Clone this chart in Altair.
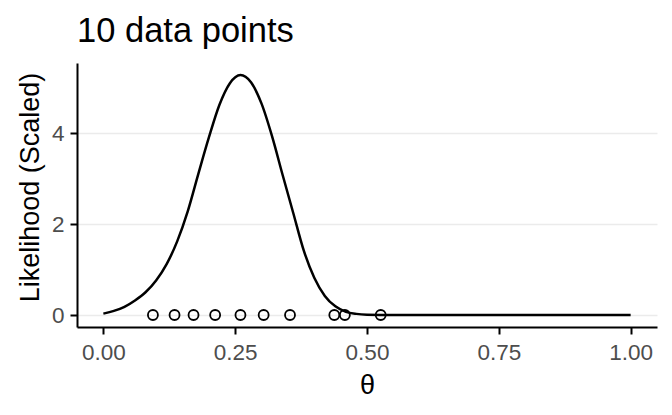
import altair as alt
import pandas as pd

# Likelihood curve
theta_grid = [0.00, 0.02, 0.04, 0.06, 0.08, 0.10, 0.12, 0.14, 0.16, 0.18,
              0.20, 0.22, 0.24, 0.26, 0.28, 0.30, 0.32, 0.34, 0.36, 0.38,
              0.40, 0.42, 0.44, 0.46, 0.48, 0.50, 0.55, 0.60, 0.70, 0.80,
              0.90, 1.00]
likelihood = [0.03, 0.09, 0.18, 0.32, 0.50, 0.76, 1.12, 1.62, 2.28, 3.10,
              3.90, 4.62, 5.10, 5.28, 5.12, 4.65, 3.93, 3.08, 2.25, 1.42,
              0.82, 0.42, 0.19, 0.07, 0.025, 0.008, 0.0, 0.0, 0.0, 0.0,
              0.0, 0.0]

# Observed data points
data_points = [0.094, 0.135, 0.171, 0.212, 0.260, 0.304, 0.354, 0.438, 0.458, 0.526]

curve_df = pd.DataFrame({"theta": theta_grid, "lik": likelihood})
pts_df = pd.DataFrame({"theta": data_points, "y": [0.0] * len(data_points)})

FONT = "Liberation Sans"

x_scale = alt.Scale(domain=[-0.05, 1.05], nice=False, zero=False)
y_scale = alt.Scale(domain=[-0.264, 5.544], nice=False, zero=False)

x_axis = alt.Axis(values=[0, 0.25, 0.5, 0.75, 1.0], format=".2f", grid=False,
                  title="θ", titleFontSize=27, titleFont=FONT, titleFontWeight="normal",
                  titleColor="black", titleBaseline="alphabetic", titleY=66,
                  labelFontSize=22.5, labelFont=FONT, labelColor="#4D4D4D",
                  labelPadding=7, tickSize=7, tickWidth=2, tickColor="black",
                  domainColor="black", domainWidth=2)
y_axis = alt.Axis(values=[0, 2, 4], grid=True, gridColor="#EBEBEB", gridWidth=1.3,
                  title="Likelihood (Scaled)", titleFontSize=27, titleFont=FONT,
                  titleFontWeight="normal", titleColor="black",
                  titleBaseline="alphabetic", titleX=-39, titleY=124, titleAngle=-90,
                  titleAlign="center",
                  labelFontSize=22.5, labelFont=FONT, labelColor="#4D4D4D",
                  labelPadding=6, tickSize=7, tickWidth=2, tickColor="black",
                  domainColor="black", domainWidth=2)

line = alt.Chart(curve_df).mark_line(color="black", strokeWidth=2.5, interpolate="monotone").encode(
    x=alt.X("theta:Q", scale=x_scale, axis=x_axis),
    y=alt.Y("lik:Q", scale=y_scale, axis=y_axis),
)

points = alt.Chart(pts_df).mark_point(shape="circle", filled=False, color="black",
                                       size=100, strokeWidth=1.8, opacity=1).encode(
    x=alt.X("theta:Q", scale=x_scale),
    y=alt.Y("y:Q", scale=y_scale),
)

chart = (line + points).properties(
    width=580, height=264,
    background="white",
    title=alt.TitleParams("10 data points", anchor="start", frame="group",
                          fontSize=34.5, font=FONT, fontWeight="normal",
                          color="black", offset=14),
    autosize=alt.AutoSizeParams(type="none"),
    padding={"left": 69, "top": 55, "right": 7, "bottom": 76},
).configure_view(strokeWidth=0, stroke="transparent")

chart.save("out.html", embed_options={"renderer": "svg", "actions": False})
